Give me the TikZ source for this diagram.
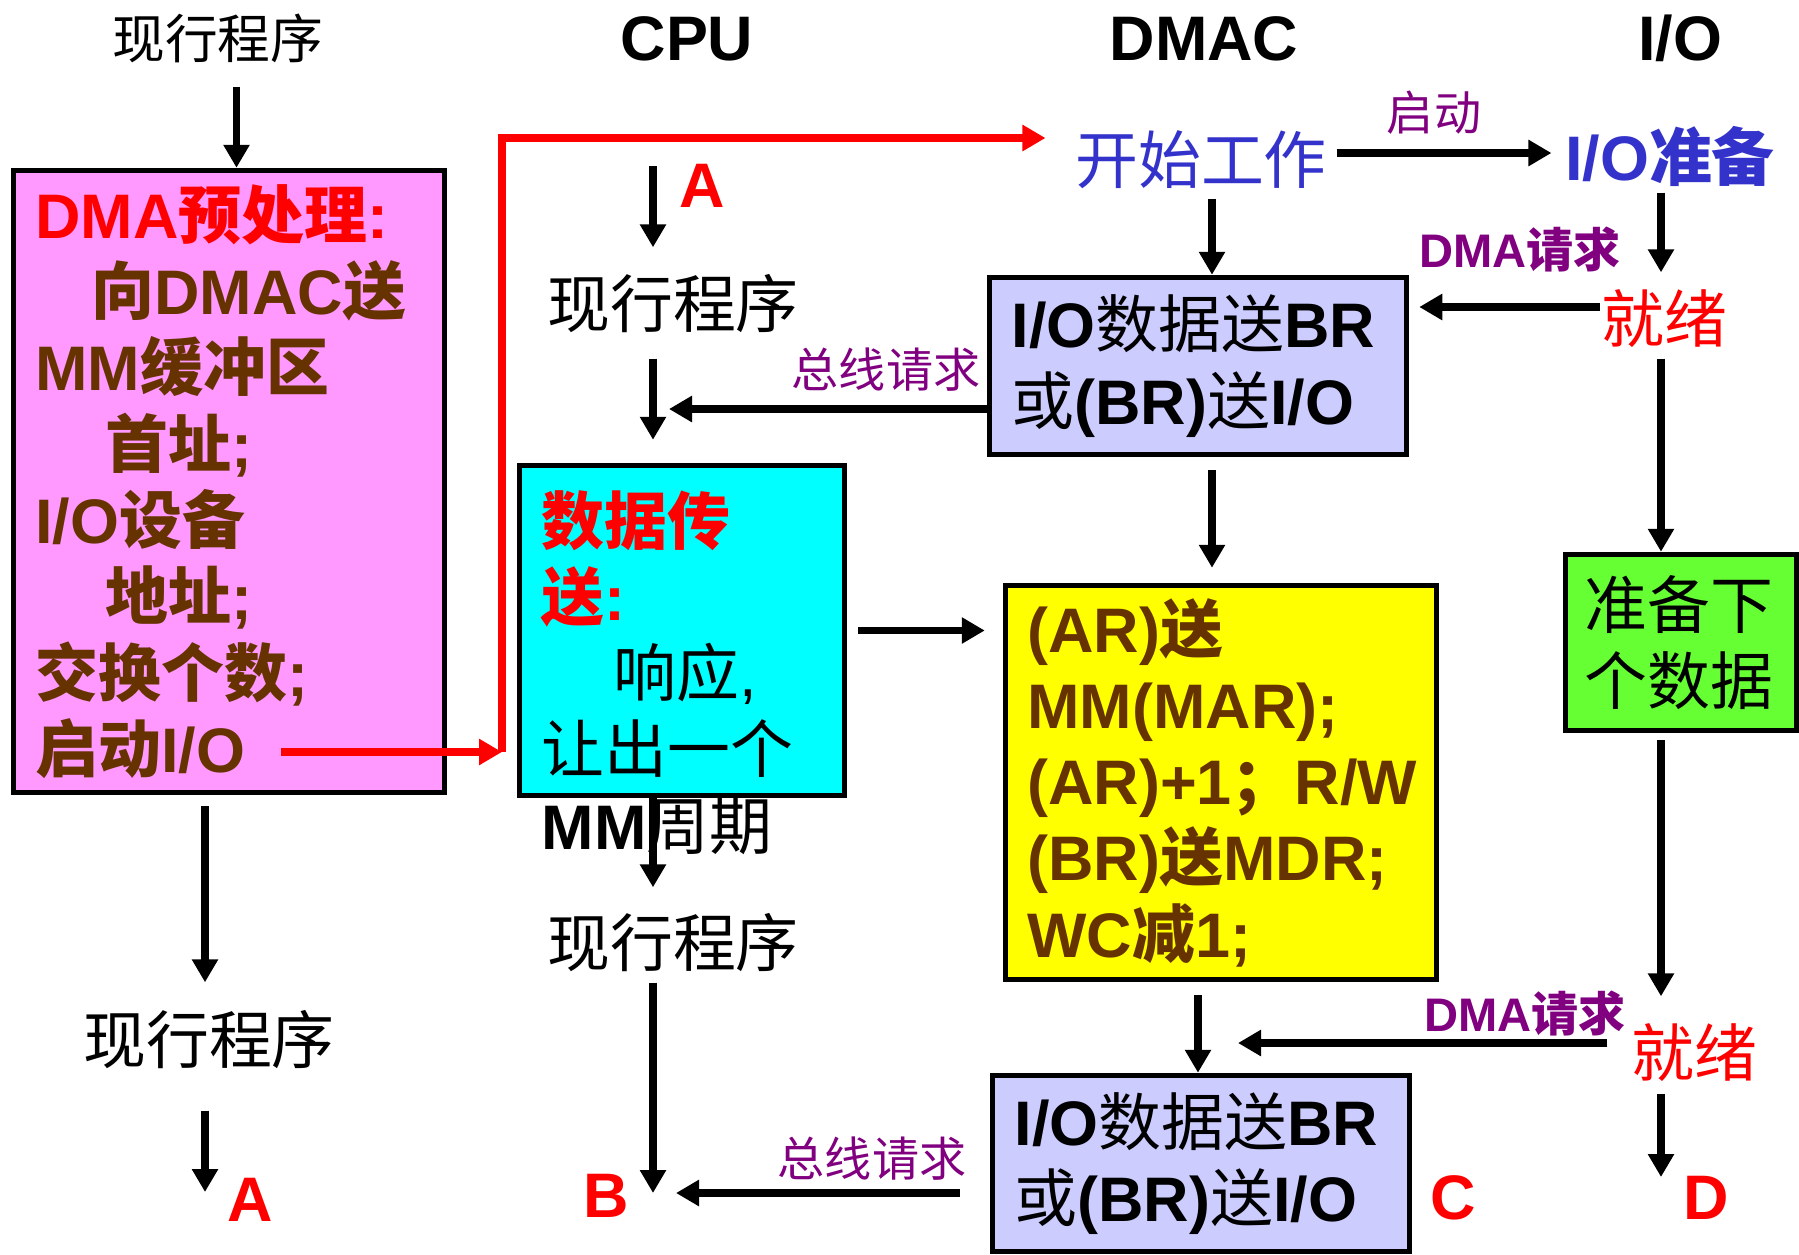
\documentclass[tikz,border=0pt]{standalone}
\usepackage{fontspec}
\setmainfont{Liberation Sans}
\newfontfamily\zhfont{Noto Sans CJK SC}
\usetikzlibrary{arrows.meta}

\definecolor{pinkbox}{HTML}{FF99FF}
\definecolor{lavbox}{HTML}{CCCCFF}
\definecolor{cyanbox}{HTML}{00FFFF}
\definecolor{yellowbox}{HTML}{FFFF00}
\definecolor{greenbox}{HTML}{66FF33}
\definecolor{textbrown}{HTML}{663300}
\definecolor{labelpurple}{HTML}{800080}
\definecolor{startblue}{HTML}{3333CC}

\newcommand\zh[1]{{\zhfont #1}}
\newcommand\zhm[1]{{\zhfont\mdseries #1}}
\newcommand\szbig{\fontsize{17.9pt}{21.7pt}\selectfont}
\newcommand\szmid{\fontsize{15pt}{18pt}\selectfont}
\newcommand\szsmall{\fontsize{13.4pt}{16pt}\selectfont}

\begin{document}
\begin{tikzpicture}[x=0.1mm, y=-0.1mm]
    % Define styles
    \tikzstyle{box} = [rectangle, draw, line width=0.55mm, align=left, inner xsep=2.2mm, inner ysep=0mm, font=\szbig]
    \tikzstyle{word} = [inner sep=0mm, text height=5.4mm, text depth=0.6mm, font=\szbig]
    \tikzstyle{smallword} = [inner sep=0mm, text height=4mm, text depth=0.45mm, font=\szsmall, text=labelpurple]
    \tikzstyle{letter} = [word, text=red, font=\szbig\bfseries]
    \tikzstyle{arrow} = [line width=0.72mm, -{Triangle[length=2.3mm,width=2.5mm]}]
    \tikzstyle{redarrow} = [arrow, red]

    \useasboundingbox (0,0) rectangle (1799,1254);

    % Headings
    \node [word, font=\szbig\bfseries] (cpu) at (687,36) {CPU};
    \node [word, font=\szbig\bfseries] (dmac) at (1204,36) {DMAC};
    \node [word, font=\szbig\bfseries] (io) at (1680,36) {I/O};

    % Main program side
    \node [word, font=\szmid\zhfont, text height=4.55mm, text depth=0.5mm] (prog0) at (218,38) {现行程序};
    \node [box, fill=pinkbox, text=textbrown, font=\szbig\bfseries, text width=38.7mm, minimum height=62.2mm] (pre) at (229,481.5)
        {\textcolor{red}{DMA\zh{预处理}:}\\
         \hspace*{5.6mm}\zh{向}DMAC\zh{送}\\
         MM\zh{缓冲区}\\
         \hspace*{7mm}\zh{首址};\\
         I/O\zh{设备}\\
         \hspace*{7mm}\zh{地址};\\
         \zh{交换个数};\\
         \zh{启动}I/O};
    \node [word, font=\szbig\zhfont] (prog1) at (209,1039) {现行程序};
    \node [letter] (lastA) at (250,1197) {A};

    % CPU
    \node [letter] (topA) at (702,183) {A};
    \node [word, font=\szbig\zhfont] (prog2) at (673,303) {现行程序};
    \node [smallword, font=\szsmall\zhfont] (bus1) at (886,370) {总线请求};
    \node [box, fill=cyanbox, minimum width=32.5mm, minimum height=33mm] (xfer) at (682,630.5) {};
    \node [box, draw=none, inner xsep=0mm, anchor=base west, text width=30mm] (xfertext) at (539,544)
        {\textcolor{red}{\bfseries\zh{数据传}}\\
         \textcolor{red}{\bfseries\zh{送}:}\\
         \hspace*{7.2mm}\zh{响应},\\
         \zh{让出一个}\\
         \textbf{MM}\zh{周期}};
    \node [word, font=\szbig\zhfont] (prog3) at (673,942) {现行程序};
    \node [letter] (lastB) at (606,1193) {B};
    \node [smallword, font=\szsmall\zhfont] (bus2) at (872,1159) {总线请求};

    % DMAC
    \node [word, font=\szbig\zhfont, text=startblue] (kaishi) at (1201,159) {开始工作};
    \node [smallword, font=\szsmall\zhfont] (qidong) at (1434,113) {启动};
    \node [box, fill=lavbox, font=\szbig\bfseries, text width=37.3mm, minimum height=17.7mm] (send1) at (1198,366)
        {I/O\zhm{数据送}BR\\ \zhm{或}(BR)\zhm{送}I/O};
    \node [box, fill=yellowbox, text=textbrown, font=\szbig\bfseries, text width=38.7mm, minimum height=39.4mm] (dma) at (1221,782.5)
        {(AR)\zh{送}\\
         MM(MAR);\\
         (AR)+1\zh{；}R/W\\
         (BR)\zh{送}MDR;\\
         WC\zh{减}1;};
    \node [box, fill=lavbox, font=\szbig\bfseries, text width=37.3mm, minimum height=17.6mm] (send2) at (1201,1163.5)
        {I/O\zhm{数据送}BR\\ \zhm{或}(BR)\zhm{送}I/O};
    \node [letter] (lastC) at (1453,1195) {C};

    % I/O
    \node [word, font=\szbig\bfseries, text=startblue] (iozb) at (1670,156) {I/O\zh{准备}};
    \node [smallword, font=\szsmall\bfseries] (req1) at (1520,250) {DMA\zh{请求}};
    \node [word, font=\szbig\zhfont, text=red] (ready1) at (1664,318) {就绪};
    \node [box, fill=greenbox, font=\szbig\zhfont, inner xsep=1.9mm, text width=19.3mm, minimum height=17.6mm] (next) at (1681,642.5)
        {准备下\\ 个数据};
    \node [smallword, font=\szsmall\bfseries] (req2) at (1525,1014) {DMA\zh{请求}};
    \node [word, font=\szbig\zhfont, text=red] (ready2) at (1694,1052) {就绪};
    \node [letter] (lastD) at (1706,1195) {D};

    % Helper points
    \coordinate (colA) at (236.5,0);
    \coordinate (colB) at (205,0);
    \coordinate (colD) at (1212,0);
    \coordinate (colR) at (1661,0);
    \coordinate (rowT) at (0,153);
    \coordinate (rowR) at (0,307);
    \coordinate (cpuin) at (653,166);
    \coordinate (busA) at (653,409);
    \coordinate (busB) at (653,1193);
    \coordinate (reqB) at (1198,1043);
    \coordinate (qd) at (281,752);
    \coordinate (redturn) at (502,752);

    % Connections
    \draw [arrow, shorten <=2.3mm] (prog0.south -| colA) -- (pre.north -| colA);
    \draw [arrow, shorten <=1.1mm, shorten >=2.6mm] (pre.south -| colB) -- (prog1.north -| colB);
    \draw [arrow, shorten <=4.1mm, shorten >=0.5mm] (prog1.south -| colB) -- (lastA.west -| colB);
    \draw [redarrow] (qd) -- (redturn);
    \draw [redarrow, shorten >=2.9mm] (redturn) |- ([yshift=2.1mm]kaishi.west);
    \draw [arrow, shorten >=2.5mm] (cpuin) -- (prog2.north -| cpuin);
    \draw [arrow, shorten <=2.5mm, shorten >=2.3mm] (prog2.south -| cpuin) -- (xfer.north -| cpuin);
    \draw [arrow, shorten >=1.6mm] (send1.west |- busA) -- (busA);
    \draw [arrow, shorten >=2.4mm] (xfer.south -| cpuin) -- (prog3.north -| cpuin);
    \draw [arrow, shorten <=1mm] (prog3.south -| cpuin) -- (busB);
    \draw [arrow, shorten <=3mm, shorten >=2.3mm] (send2.west |- busB) -- (busB);
    \draw [arrow, shorten <=0.9mm, shorten >=1.3mm] (kaishi.east |- rowT) -- (iozb.west |- rowT);
    \draw [arrow, shorten <=0.9mm] (kaishi.south -| colD) -- (send1.north -| colD);
    \draw [arrow, shorten <=1.3mm, shorten >=1.5mm] (send1.south -| colD) -- (dma.north -| colD);
    \draw [arrow, shorten <=1.1mm, shorten >=1.8mm] (xfer.east) -- (xfer.east -| dma.west);
    \draw [arrow, shorten <=0.6mm, shorten >=1.5mm] (iozb.south -| colR) -- (ready1.north -| colR);
    \draw [arrow, shorten >=1mm] (ready1.west |- rowR) -- (send1.east |- rowR);
    \draw [arrow, shorten <=1mm] (ready1.south -| colR) -- (next.north -| colR);
    \draw [arrow, shorten <=0.7mm, shorten >=2.5mm] (next.south -| colR) -- (ready2.north -| colR);
    \draw [arrow, shorten <=2.3mm, shorten >=4mm] (ready2.west |- reqB) -- (reqB);
    \draw [arrow, shorten <=1.3mm] (dma.south -| reqB) -- (send2.north -| reqB);
    \draw [arrow, shorten <=1.1mm, shorten >=1.8mm] (ready2.south -| colR) -- (lastD.west -| colR);
\end{tikzpicture}
\end{document}
